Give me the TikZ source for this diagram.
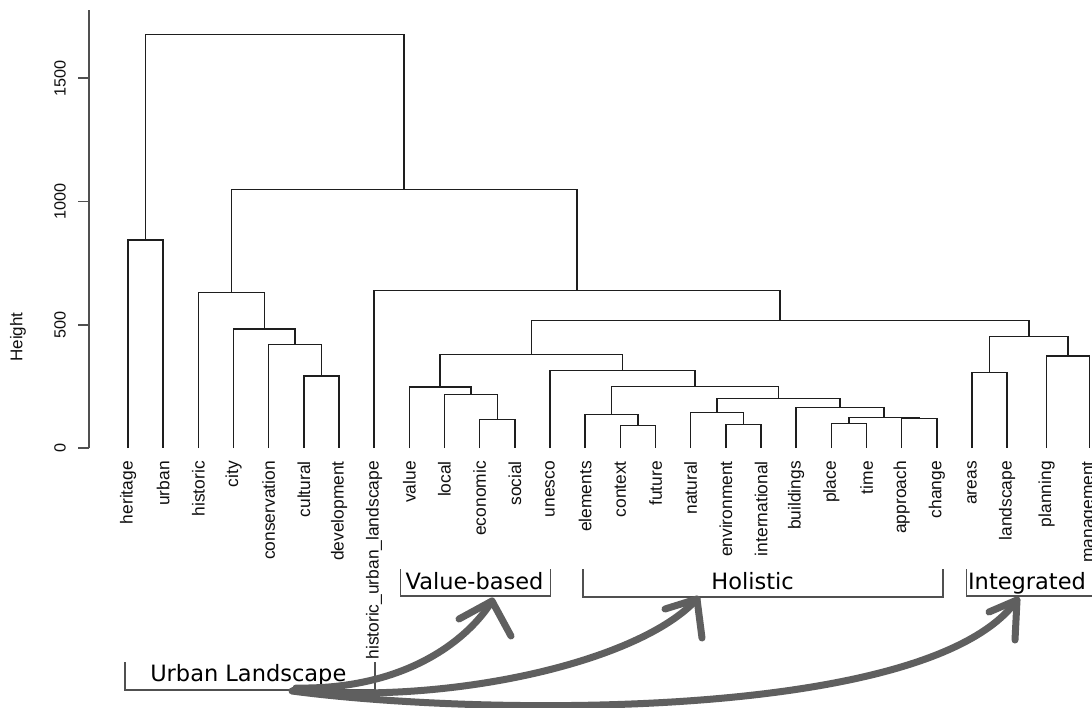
\documentclass[tikz,border=0pt]{standalone}
\usepackage{fontspec}
\setmainfont{Liberation Sans}
\newfontfamily\annfont{DejaVu Sans}
\definecolor{dendc}{RGB}{30,30,30}
\definecolor{axisc}{RGB}{80,80,80}
\definecolor{arrc}{RGB}{95,95,95}
\definecolor{txtc}{RGB}{15,15,15}
\begin{document}
\begin{tikzpicture}[x=1pt,y=-1pt,
  dend/.style={line width=1.5pt, draw=dendc},
  axisline/.style={line width=1.4pt, draw=axisc},
  leaf/.style={rotate=90, anchor=east, inner sep=0pt, text=txtc, font=\fontsize{17.4}{18}\selectfont},
  ticklab/.style={rotate=90, inner sep=0pt, text=txtc, font=\fontsize{16.2}{16}\selectfont},
  ann/.style={anchor=base, inner sep=0pt, text=black, font=\annfont\fontsize{22.5}{23}\selectfont},
  bracket/.style={line width=1.4pt, draw=axisc},
  bigarrow/.style={line width=7pt, draw=arrc, line cap=round, line join=round}]
\fill[white] (0,0) rectangle (1092,707);
\useasboundingbox (0,0) rectangle (1092,707);

% axis
\coordinate (ax0) at (89,448);
\coordinate (axtop) at (89,10);
\draw[axisline] (ax0) -- (axtop);
\foreach \yy/\lab in {448/0, 325/500, 201.5/1000, 78/1500}{
  \draw[axisline] (89,\yy) -- (78,\yy);
  \node[ticklab] at (60,\yy) {\lab};
}
\node[ticklab, font=\fontsize{17}{17}\selectfont] (ylab) at (18,337) {Height};

% leaves
\foreach \i/\xx/\name in {1/128.0/heritage, 2/163.2/urban, 3/198.3/historic, 4/233.5/city,
  5/268.7/conservation, 6/303.9/cultural, 7/339.0/development, 8/374.2/historic\_urban\_landscape,
  9/409.4/value, 10/444.5/local, 11/479.7/economic, 12/514.9/social, 13/550.0/unesco,
  14/585.2/elements, 15/620.4/context, 16/655.6/future, 17/690.7/natural, 18/725.9/environment,
  19/761.1/international, 20/796.2/buildings, 21/831.4/place, 22/866.6/time, 23/901.7/approach,
  24/936.9/change, 25/972.1/areas, 26/1007.2/landscape, 27/1046.7/planning, 28/1089.5/management}{
  \coordinate (l\i) at (\xx,448);
  \node[leaf] (t\i) at (\xx,461) {\name};
}

% merge points
\coordinate (A) at (145.6,240);
\coordinate (B) at (321.45,376);
\coordinate (C) at (295.1,344.3);
\coordinate (D) at (264.3,329);
\coordinate (E) at (231.3,292.7);
\coordinate (F) at (497.3,419.3);
\coordinate (G) at (470.9,394.3);
\coordinate (H) at (440.15,387);
\coordinate (I) at (638,425.3);
\coordinate (J) at (611.6,414.7);
\coordinate (K) at (743.5,424.3);
\coordinate (L) at (717.1,412.3);
\coordinate (M) at (849,423.7);
\coordinate (N) at (919.3,418.3);
\coordinate (O) at (884.15,417.7);
\coordinate (P) at (840.2,407.7);
\coordinate (Q) at (778.65,398.3);
\coordinate (R) at (695.1,386.5);
\coordinate (S) at (622.55,370.7);
\coordinate (T) at (531.35,354.3);
\coordinate (U) at (989.65,372.3);
\coordinate (V) at (1068.1,356);
\coordinate (W) at (1028.9,336.3);
\coordinate (X) at (780.1,320.5);
\coordinate (Y) at (577.15,290.7);
\coordinate (Z) at (404.2,189.3);
\coordinate (root) at (274.9,34.3);

\draw[dend] (l1) |- (A) -| (l2);
\draw[dend] (l6) |- (B) -| (l7);
\draw[dend] (l5) |- (C) -| (B);
\draw[dend] (l4) |- (D) -| (C);
\draw[dend] (l3) |- (E) -| (D);
\draw[dend] (l11) |- (F) -| (l12);
\draw[dend] (l10) |- (G) -| (F);
\draw[dend] (l9) |- (H) -| (G);
\draw[dend] (l15) |- (I) -| (l16);
\draw[dend] (l14) |- (J) -| (I);
\draw[dend] (l18) |- (K) -| (l19);
\draw[dend] (l17) |- (L) -| (K);
\draw[dend] (l21) |- (M) -| (l22);
\draw[dend] (l23) |- (N) -| (l24);
\draw[dend] (M) |- (O) -| (N);
\draw[dend] (l20) |- (P) -| (O);
\draw[dend] (L) |- (Q) -| (P);
\draw[dend] (J) |- (R) -| (Q);
\draw[dend] (l13) |- (S) -| (R);
\draw[dend] (H) |- (T) -| (S);
\draw[dend] (l25) |- (U) -| (l26);
\draw[dend] (l27) |- (V) -| (l28);
\draw[dend] (U) |- (W) -| (V);
\draw[dend] (T) |- (X) -| (W);
\draw[dend] (l8) |- (Y) -| (X);
\draw[dend] (E) |- (Z) -| (Y);
\draw[dend] (A) |- (root) -| (Z);

% annotation brackets
\draw[bracket] (125,662) -- (125,690) -- (375,690) -- (375,662);
\node[ann] (ul) at (248.3,681) {Urban Landscape};
\draw[bracket] (400.7,569) -- (400.7,596) -- (550.7,596) -- (550.7,569);
\node[ann] (vb) at (474.5,589) {Value-based};
\draw[bracket] (583,569) -- (583,597) -- (943,597) -- (943,569);
\node[ann] (ho) at (752.5,589) {Holistic};
\draw[bracket] (966.7,569) -- (966.7,596) -- (1092,596);
\node[ann] (ig) at (1027,589) {Integrated};

% arrows
\coordinate (s1) at (296,688);
\coordinate (s2) at (294,690);
\coordinate (s3) at (292,691);
\coordinate (tv) at (492,601);
\coordinate (tvl) at (459,619);
\coordinate (tvr) at (511,636);
\coordinate (th) at (697,599);
\coordinate (thl) at (665,609);
\coordinate (thr) at (702,638);
\coordinate (ti) at (1017,600);
\coordinate (til) at (989,612);
\coordinate (tir) at (1015,640);
\draw[bigarrow] (s1) .. controls (405,690) and (468,640) .. (tv);
\draw[bigarrow] (tvl) -- (tv) -- (tvr);
\draw[bigarrow] (s2) .. controls (450,705) and (640,662) .. (th);
\draw[bigarrow] (thl) -- (th) -- (thr);
\draw[bigarrow] (s3) .. controls (480,716) and (930,722) .. (ti);
\draw[bigarrow] (til) -- (ti) -- (tir);
\end{tikzpicture}
\end{document}
